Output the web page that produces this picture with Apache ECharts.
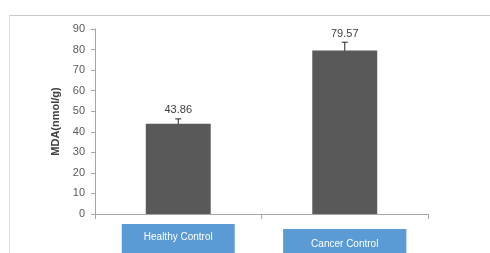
<!DOCTYPE html>
<html><head><meta charset="utf-8">
<script src="https://cdn.jsdelivr.net/npm/echarts@6/dist/echarts.min.js"></script>
<style>html,body{margin:0;padding:0;background:#fff}#c{width:490px;height:253px}</style>
</head><body><div id="c"></div>
<script>
const categories = ['Healthy Control', 'Cancer Control'];
const values = [43.86, 79.57];
const errors = [2.4, 4.0];
const yTicks = [0, 10, 20, 30, 40, 50, 60, 70, 80, 90];

const chart = echarts.init(document.getElementById('c'), null, {renderer: 'canvas'});
const font = 'Liberation Sans, Arial, sans-serif';
const boxStyle = {color: '#ffffff', fontFamily: font, fontSize: 10, backgroundColor: '#5b9bd5', lineHeight: 14};
chart.setOption({
  animation: false,
  graphic: [
    {type: 'line', shape: {x1: 9, y1: 15.5, x2: 490, y2: 15.5}, style: {stroke: '#c8c8c8', lineWidth: 1}},
    {type: 'line', shape: {x1: 9.5, y1: 15, x2: 9.5, y2: 253}, style: {stroke: '#e4e4e4', lineWidth: 1}}
  ],
  grid: {left: 95, right: 62, top: 29, bottom: 39, containLabel: false, outerBoundsMode: 'none'},
  xAxis: {
    type: 'category',
    data: categories,
    axisLine: {lineStyle: {color: '#a6a6a6'}},
    axisTick: {show: true, length: 5, lineStyle: {color: '#a6a6a6'}},
    axisLabel: {
      interval: 0, margin: 22,
      formatter: function (v, i) {
        return i === 0 ? '{a|' + v + '}' : '{gap|}\n{b|' + v + '}';
      },
      rich: {
        a: Object.assign({}, boxStyle, {padding: [8, 22, 20, 22]}),
        b: Object.assign({}, boxStyle, {padding: [10, 28, 20, 28]}),
        gap: {height: 6, lineHeight: 6, fontSize: 1}
      }
    }
  },
  yAxis: {
    type: 'value', min: 0, max: 90, interval: 10,
    name: 'MDA(nmol/g)', nameLocation: 'middle', nameGap: 34,
    nameTextStyle: {fontFamily: font, fontSize: 11, fontWeight: 'bold', color: '#404040'},
    axisLine: {show: true, lineStyle: {color: '#a6a6a6'}},
    axisTick: {show: true, length: 4, inside: false, lineStyle: {color: '#a6a6a6'}},
    splitLine: {show: false},
    axisLabel: {color: '#595959', fontFamily: font, fontSize: 11, margin: 10,
      formatter: function (v) { return yTicks.indexOf(v) >= 0 ? String(v) : ''; }}
  },
  series: [
    {
      type: 'bar', data: values, barWidth: '39%',
      itemStyle: {color: '#595959'}
    },
    {
      type: 'custom',
      data: values.map((v, i) => [i, v, errors[i]]),
      renderItem: function (params, api) {
        const i = api.value(0), v = api.value(1), e = api.value(2);
        const top = api.coord([i, v + e]);
        const bot = api.coord([i, v - e]);
        const x = top[0];
        const w = 3;
        return {
          type: 'group',
          children: [
            {type: 'line', shape: {x1: x, y1: top[1], x2: x, y2: bot[1]}, style: {stroke: '#262626', lineWidth: 1}},
            {type: 'line', shape: {x1: x - w, y1: top[1], x2: x + w, y2: top[1]}, style: {stroke: '#262626', lineWidth: 1}},
            {type: 'line', shape: {x1: x - w, y1: bot[1], x2: x + w, y2: bot[1]}, style: {stroke: '#262626', lineWidth: 1}},
            {type: 'text', x: x, y: top[1] - 3, style: {text: v.toFixed(2), align: 'center', verticalAlign: 'bottom', fill: '#404040', font: '11px ' + font}}
          ]
        };
      }
    }
  ]
});
</script></body></html>
